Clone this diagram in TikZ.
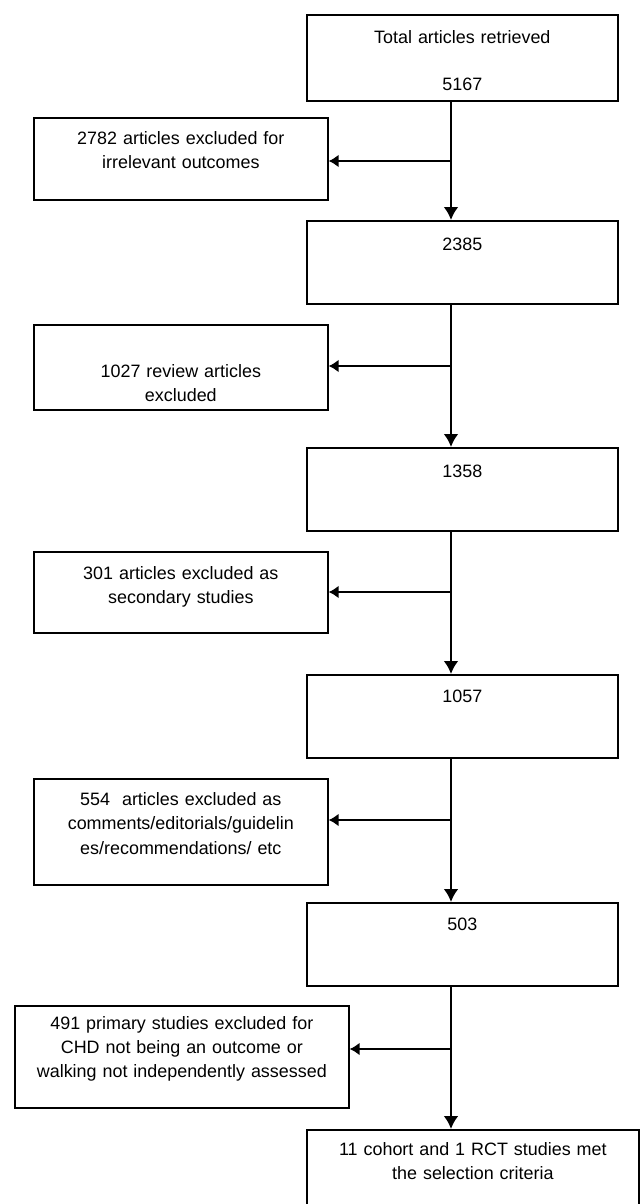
\documentclass[tikz,border=0pt]{standalone}
\usepackage{fontspec}
\setmainfont{Liberation Sans}
\usetikzlibrary{arrows.meta}

\begin{document}
\begin{tikzpicture}[x=0.02cm, y=-0.02cm, >={Latex[length=0.26cm, width=0.3cm]}]
  % Set the box and arrow styles
  \tikzset{
    flowbox/.style={draw, line width=1pt, anchor=north west, inner xsep=0pt, inner ysep=0pt,
      align=center, font=\fontsize{10.2}{13.7}\selectfont},
    mainbox/.style={flowbox, text width=6.22cm},
    sidebox/.style={flowbox, text width=5.88cm},
    spine/.style={->, line width=1.7pt},
    branch/.style={-{Latex[length=0.2cm, width=0.26cm]}, line width=1.1pt}
  }
  \clip (0,0) rectangle (640,1204);

  % Draw the main boxes
  \node[mainbox, text height=0.57cm, text depth=1.15cm] (total) at (306,14)
    {Total articles retrieved\\[0.46cm]5167};
  \foreach \num/\y/\th/\td in {2385/220/0.59/1.07, 1358/447/0.59/1.07,
                               1057/674/0.55/1.11, 503/902/0.55/1.11}{
    \node[mainbox, text height=\th cm, text depth=\td cm] (m\num) at (306,\y) {\num};
  }
  \node[flowbox, text width=6.64cm, text height=0.51cm, text depth=1.29cm] (final) at (306,1129)
    {11 cohort and 1 RCT studies met\\the selection criteria};

  % Draw the exclusion boxes
  \node[sidebox, text height=0.53cm, text depth=1.11cm] (s2782) at (33,117)
    {2782 articles excluded for\\irrelevant outcomes};
  \node[sidebox, text height=1.05cm, text depth=0.65cm] (s1027) at (33,324)
    {1027 review articles\\excluded};
  \node[sidebox, text height=0.55cm, text depth=1.07cm] (s301) at (33,551)
    {301 articles excluded as\\secondary studies};
  \node[sidebox, text height=0.54cm, text depth=1.58cm] (s554) at (33,778)
    {554\ \ articles excluded as\\comments/editorials/guidelin\\es/recommendations/ etc};
  \node[flowbox, text width=6.68cm, text height=0.47cm, text depth=1.57cm] (s491) at (14,1005)
    {491 primary studies excluded for\\CHD not being an outcome or\\walking not independently assessed};

  % Connect the main boxes
  \coordinate (axis) at (451,0);
  \foreach \a/\b in {total/m2385, m2385/m1358, m1358/m1057, m1057/m503, m503/final}{
    \draw[spine] (\a.south -| axis) -- (\b.north -| axis);
  }

  % Connect the spine to the exclusion boxes
  \foreach \s/\y in {s2782/161, s1027/366, s301/592, s554/820, s491/1049}{
    \coordinate (j\s) at (451,\y);
    \draw[branch] (j\s) -- (j\s -| \s.east);
  }
\end{tikzpicture}
\end{document}
